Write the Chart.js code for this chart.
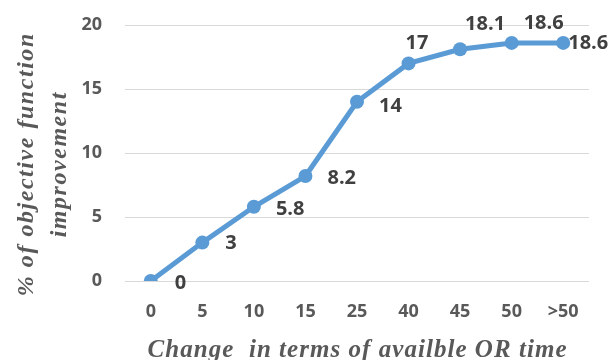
<!DOCTYPE html>
<html>
<head>
<meta charset="utf-8">
<script src="https://cdn.jsdelivr.net/npm/chart.js@4/dist/chart.umd.min.js"></script>
<style>
  html, body { margin: 0; padding: 0; background: #fff; }
  #wrap { width: 611px; height: 360px; }
</style>
</head>
<body>
<div id="wrap"><canvas id="myChart" width="611" height="360"></canvas></div>
<script>
// data
var categories = ['0', '5', '10', '15', '25', '40', '45', '50', '>50'];
var improvement = [0, 3, 5.8, 8.2, 14, 17, 18.1, 18.6, 18.6];
var yTicks = [0, 5, 10, 15, 20];
var xTitle = 'Change  in terms of availble OR time';
var yTitle = ['% of objective function', 'improvement'];

var tickFont = { family: "'Open Sans', 'Liberation Sans', sans-serif", size: 18, weight: 'bold' };
var titleFamily = "'Liberation Serif', 'DejaVu Serif', serif";

// draws the value next to each point (offsets from the point, per index)
var pointLabels = {
  id: 'pointLabels',
  afterDatasetsDraw: function (chart, args, opts) {
    var ctx = chart.ctx;
    var meta = chart.getDatasetMeta(0);
    ctx.save();
    ctx.font = 'bold 20px ' + tickFont.family;
    ctx.fillStyle = '#404040';
    ctx.textBaseline = 'middle';
    ctx.textAlign = 'left';
    meta.data.forEach(function (pt, i) {
      var off = opts.offsets[i];
      ctx.fillText(String(improvement[i]), pt.x + off[0], pt.y + off[1]);
    });
    ctx.restore();
  }
};

// axis titles, stretched with letter spacing to the width they have in the picture
function spacingFor(ctx, text, width) {
  ctx.letterSpacing = '0px';
  var w = ctx.measureText(text).width;
  return Math.max(0, (width - w) / text.length);
}

var axisTitles = {
  id: 'axisTitles',
  afterDraw: function (chart) {
    var ctx = chart.ctx;
    var area = chart.chartArea;
    ctx.save();
    ctx.fillStyle = '#595959';
    ctx.textAlign = 'center';

    ctx.font = 'italic bold 25px ' + titleFamily;
    var sx = spacingFor(ctx, xTitle, 420);
    ctx.letterSpacing = sx + 'px';
    ctx.textBaseline = 'alphabetic';
    ctx.fillText(xTitle, (area.left + area.right) / 2 + sx / 2, 357);

    ctx.font = 'italic bold 24px ' + titleFamily;
    var sy = spacingFor(ctx, yTitle[0], 264);
    ctx.letterSpacing = sy + 'px';
    ctx.textBaseline = 'middle';
    ctx.translate(0, 165);
    ctx.rotate(-Math.PI / 2);
    ctx.fillText(yTitle[0], sy / 2, 27);
    ctx.fillText(yTitle[1], sy / 2, 60);
    ctx.restore();
  }
};

var ctx = document.getElementById('myChart').getContext('2d');
var chart = new Chart(ctx, {
  type: 'line',
  data: {
    labels: categories,
    datasets: [{
      data: improvement,
      borderColor: '#5B9BD5',
      backgroundColor: '#5B9BD5',
      borderWidth: 5,
      pointRadius: 7,
      pointBackgroundColor: '#5B9BD5',
      pointBorderWidth: 0,
      tension: 0
    }]
  },
  options: {
    responsive: false,
    animation: false,
    layout: { padding: { left: 0, right: 22, top: 25, bottom: 0 } },
    plugins: {
      legend: { display: false },
      tooltip: { enabled: false },
      pointLabels: {
        offsets: [[24, 2], [23, 1], [22, 3], [22, 2], [22, 4], [-3, -20], [5, -25], [12, -20], [5, 0]]
      }
    },
    scales: {
      x: {
        offset: true,
        grid: { display: false, drawTicks: false },
        border: { display: false },
        ticks: { color: '#595959', font: tickFont, padding: 20, maxRotation: 0 },
        afterFit: function (scale) { scale.height = 79; }
      },
      y: {
        min: 0,
        max: 20,
        afterBuildTicks: function (scale) {
          scale.ticks = yTicks.map(function (v) { return { value: v }; });
        },
        grid: { color: '#d9d9d9', lineWidth: 1, drawTicks: false },
        border: { display: false },
        ticks: { color: '#595959', font: tickFont, padding: 23 },
        afterFit: function (scale) {
          scale.width = 125;
          scale.paddingTop = 0;
          scale.paddingBottom = 0;
        }
      }
    }
  },
  plugins: [pointLabels, axisTitles]
});
</script>
</body>
</html>
